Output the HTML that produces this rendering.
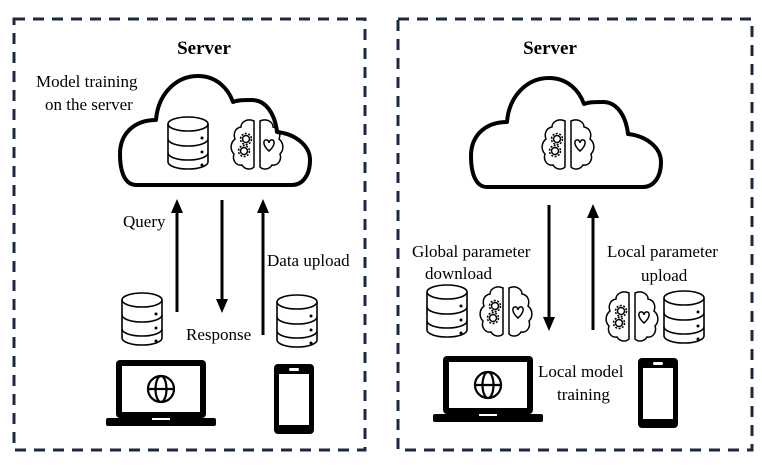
<!DOCTYPE html>
<html><head><meta charset="utf-8"><style>
html,body{margin:0;padding:0;background:#fff;}
svg{display:block;}
text{font-family:"Liberation Serif",serif;font-size:17px;fill:#000;}
</style></head><body>
<svg width="762" height="467" viewBox="0 0 762 467" xmlns="http://www.w3.org/2000/svg">
<defs>
<g id="db" fill="#fff" stroke="#000" stroke-width="1.6">
<path d="M1,8 L1,46 A20,7 0 0 0 41,46 L41,8"/>
<ellipse cx="21" cy="8" rx="20" ry="7"/>
<path d="M1,23 A20,7 0 0 0 41,23 M1,37 A20,7 0 0 0 41,37" fill="none"/>
<circle cx="35" cy="22" r="1.5" fill="#000" stroke="none"/>
<circle cx="35" cy="36" r="1.5" fill="#000" stroke="none"/>
<circle cx="35" cy="49" r="1.5" fill="#000" stroke="none"/>
</g>
<g id="brain" fill="none" stroke="#000" stroke-width="1.5">
<path d="M25,3 C18,0 12,4 12,9 C6,10 4,16 6,21 C1,25 1,32 5,36 C3,42 7,48 13,47 C16,52 22,52 25,49 Z"/>
<path d="M31,3 C38,0 44,4 44,9 C50,10 52,16 50,21 C55,25 55,32 51,36 C53,42 49,48 43,47 C40,52 34,52 31,49 Z"/>
<circle cx="17" cy="21" r="3.5"/><circle cx="17" cy="21" r="5.5" stroke-dasharray="2 1.5"/>
<circle cx="15" cy="33" r="3.5"/><circle cx="15" cy="33" r="5.5" stroke-dasharray="2 1.5"/>
<path d="M40,33 C33,27 34,21 38,22 C39,22 40,24 40,25 C40,24 41,22 42,22 C46,21 47,27 40,33 Z"/>
</g>
<g id="laptop">
<rect x="10" y="0" width="90" height="58" rx="4" fill="#000"/>
<rect x="16" y="6" width="78" height="46" fill="#fff"/>
<g fill="none" stroke="#000" stroke-width="2.2">
<circle cx="55" cy="29" r="13"/><ellipse cx="55" cy="29" rx="5.5" ry="13"/>
<line x1="42" y1="29" x2="68" y2="29"/>
</g>
<rect x="0" y="58" width="110" height="8" rx="2" fill="#000"/>
<rect x="46" y="58" width="18" height="2" fill="#fff"/>
</g>
<g id="phone">
<rect x="0" y="0" width="40" height="70" rx="4" fill="#000"/>
<rect x="5" y="10" width="30" height="51" fill="#fff"/>
<rect x="15" y="4" width="10" height="3" rx="1.5" fill="#fff"/>
</g>
<path id="cloud" d="M16,109 C6,109 0,98 0,78 C0,56 16,44 36,44 C38,18 56,0 78,0 C96,0 108,12 113,26 C118,24 124,24 132,24 C146,24 155,38 157,56 C176,58 190,70 190,84 C190,100 182,109 172,109 Z" fill="#fff" stroke="#000" stroke-width="4" stroke-linejoin="round"/>
<marker id="ah" markerWidth="14" markerHeight="14" refX="3" refY="7" orient="auto" markerUnits="userSpaceOnUse">
<path d="M0,1 L14,7 L0,13 Z" fill="#000"/></marker>
</defs>

<rect x="14" y="19" width="351" height="431" fill="none" stroke="#1c2a40" stroke-width="3" stroke-dasharray="11 8"/>
<rect x="398" y="19" width="354" height="431" fill="none" stroke="#1c2a40" stroke-width="3" stroke-dasharray="11 8"/>

<!-- left panel -->
<text x="204" y="54" text-anchor="middle" font-weight="bold" style="font-size:19px">Server</text>
<text x="36" y="87">Model training</text>
<text x="45" y="110">on the server</text>
<use href="#cloud" transform="translate(120,76)"/>
<use href="#db" transform="translate(167,116)"/>
<use href="#brain" transform="translate(229,118)"/>
<line x1="177" y1="312" x2="177" y2="210" stroke="#000" stroke-width="3" marker-end="url(#ah)"/>
<line x1="222" y1="200" x2="222" y2="302" stroke="#000" stroke-width="3" marker-end="url(#ah)"/>
<line x1="263" y1="335" x2="263" y2="210" stroke="#000" stroke-width="3" marker-end="url(#ah)"/>
<text x="123" y="227">Query</text>
<text x="267" y="266">Data upload</text>
<text x="186" y="340">Response</text>
<use href="#db" transform="translate(121,292)"/>
<use href="#db" transform="translate(276,294)"/>
<use href="#laptop" transform="translate(106,360)"/>
<use href="#phone" transform="translate(274,364)"/>

<!-- right panel -->
<text x="550" y="54" text-anchor="middle" font-weight="bold" style="font-size:19px">Server</text>
<use href="#cloud" transform="translate(471,78)"/>
<use href="#brain" transform="translate(540,118)"/>
<line x1="549" y1="205" x2="549" y2="320" stroke="#000" stroke-width="3" marker-end="url(#ah)"/>
<line x1="593" y1="330" x2="593" y2="215" stroke="#000" stroke-width="3" marker-end="url(#ah)"/>
<text x="412" y="257">Global parameter</text>
<text x="425" y="279">download</text>
<text x="607" y="257">Local parameter</text>
<text x="641" y="281">upload</text>
<use href="#db" transform="translate(426,284)"/>
<use href="#brain" transform="translate(478,285)"/>
<use href="#brain" transform="translate(604,290)"/>
<use href="#db" transform="translate(663,290)"/>
<use href="#laptop" transform="translate(433,356)"/>
<text x="538" y="377">Local model</text>
<text x="557" y="400">training</text>
<use href="#phone" transform="translate(638,358)"/>
</svg>
</body></html>
